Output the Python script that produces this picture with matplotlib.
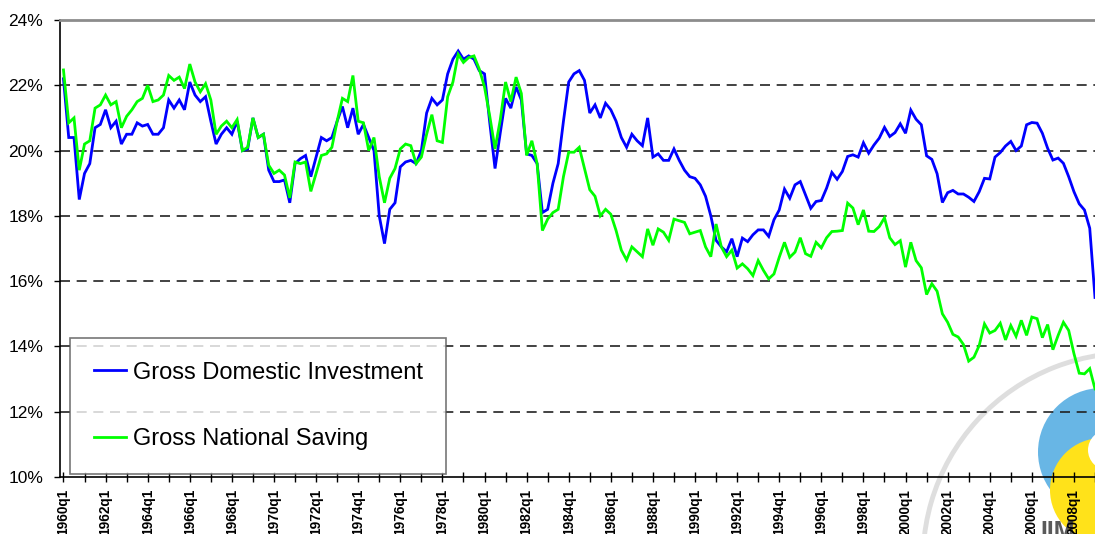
import matplotlib
matplotlib.use("Agg")
import matplotlib.pyplot as plt
from matplotlib.patches import Circle, Arc

plt.rcParams['font.family'] = ['Liberation Sans', 'DejaVu Sans']

# quarterly data, 1960q1 onwards (percent of GDP)
quarters = [f"{1960 + k // 4}q{k % 4 + 1}" for k in range(197)]

gross_investment = [
    22.2, 20.4, 20.4, 18.5, 19.3, 19.6, 20.7, 20.8, 21.25, 20.7,
    20.9, 20.2, 20.5, 20.5, 20.85, 20.75, 20.8, 20.5, 20.5, 20.7,
    21.55, 21.3, 21.55, 21.25, 22.1, 21.7, 21.5, 21.65, 20.9, 20.2,
    20.5, 20.7, 20.5, 20.9, 20.0, 20.05, 21.0, 20.4, 20.5, 19.4,
    19.05, 19.05, 19.1, 18.4, 19.6, 19.75, 19.85, 19.2, 19.8, 20.4,
    20.3, 20.4, 20.9, 21.35, 20.7, 21.3, 20.5, 20.8, 20.4, 20.0,
    18.0, 17.15, 18.2, 18.4, 19.5, 19.65, 19.7, 19.6, 20.0, 21.15,
    21.6, 21.4, 21.55, 22.35, 22.8, 23.05, 22.8, 22.9, 22.8, 22.45,
    22.35, 20.85, 19.45, 20.55, 21.6, 21.3, 21.95, 21.55, 19.9, 19.85,
    19.6, 18.1, 18.2, 19.0, 19.6, 20.9, 22.1, 22.35, 22.45, 22.15,
    21.15, 21.4, 21.0, 21.45, 21.25, 20.9, 20.4, 20.1, 20.5, 20.3,
    20.15, 21.0, 19.8, 19.9, 19.7, 19.7, 20.05, 19.7, 19.4, 19.2,
    19.15, 18.95, 18.6, 18.0, 17.25, 17.05, 16.9, 17.3, 16.75, 17.32,
    17.21, 17.42, 17.57, 17.57, 17.37, 17.88, 18.18, 18.82, 18.54, 18.95,
    19.05, 18.64, 18.23, 18.44, 18.47, 18.85, 19.33, 19.12, 19.36, 19.82,
    19.87, 19.8, 20.24, 19.92, 20.17, 20.38, 20.71, 20.43, 20.55, 20.82,
    20.53, 21.24, 20.96, 20.79, 19.84, 19.73, 19.29, 18.41, 18.71, 18.78,
    18.67, 18.67, 18.57, 18.44, 18.74, 19.15, 19.13, 19.8, 19.94, 20.14,
    20.28, 20.0, 20.14, 20.79, 20.86, 20.84, 20.53, 20.07, 19.71, 19.77,
    19.61, 19.2, 18.74, 18.37, 18.18, 17.62, 15.5,
]

gross_saving = [
    22.47, 20.85, 21.0, 19.4, 20.2, 20.3, 21.3, 21.4, 21.7, 21.4,
    21.5, 20.7, 21.05, 21.25, 21.5, 21.6, 22.0, 21.5, 21.55, 21.7,
    22.3, 22.15, 22.25, 21.9, 22.65, 22.1, 21.8, 22.05, 21.55, 20.5,
    20.75, 20.9, 20.7, 20.95, 20.0, 20.1, 21.0, 20.4, 20.5, 19.55,
    19.3, 19.4, 19.25, 18.55, 19.65, 19.6, 19.65, 18.75, 19.3, 19.85,
    19.9, 20.1, 20.9, 21.6, 21.5, 22.3, 20.9, 20.85, 20.0, 20.4,
    19.2, 18.4, 19.15, 19.45, 20.05, 20.2, 20.15, 19.6, 19.8, 20.5,
    21.1, 20.3, 20.25, 21.65, 22.1, 22.95, 22.7, 22.85, 22.9, 22.5,
    21.95, 21.05, 20.05, 20.95, 22.1, 21.5, 22.25, 21.75, 19.85, 20.3,
    19.6, 17.55, 17.9, 18.1, 18.2, 19.2, 19.95, 19.95, 20.1, 19.45,
    18.8, 18.6, 18.0, 18.2, 18.05, 17.55, 16.95, 16.65, 17.05, 16.9,
    16.75, 17.6, 17.1, 17.6, 17.5, 17.25, 17.9, 17.85, 17.8, 17.45,
    17.5, 17.55, 17.05, 16.75, 17.75, 17.05, 16.75, 16.95, 16.4, 16.53,
    16.38, 16.17, 16.63, 16.33, 16.07, 16.22, 16.73, 17.19, 16.73, 16.89,
    17.33, 16.84, 16.76, 17.19, 17.02, 17.33, 17.52, 17.53, 17.55, 18.39,
    18.24, 17.73, 18.18, 17.53, 17.52, 17.67, 17.94, 17.33, 17.12, 17.24,
    16.43, 17.19, 16.63, 16.41, 15.59, 15.92, 15.69, 15.0, 14.74, 14.37,
    14.29, 14.06, 13.55, 13.67, 14.03, 14.69, 14.41, 14.49, 14.71, 14.2,
    14.64, 14.31, 14.8, 14.34, 14.9, 14.85, 14.27, 14.67, 13.9, 14.34,
    14.74, 14.49, 13.78, 13.18, 13.16, 13.32, 12.7,
]

y_ticks = [10, 12, 14, 16, 18, 20, 22, 24]

W, H = 1095, 534
fig = plt.figure(figsize=(W / 100, H / 100), dpi=100)

# watermark layer (pixel coordinates), sits behind the chart
bg = fig.add_axes([0, 0, 1, 1], zorder=0)
bg.set_xlim(0, W)
bg.set_ylim(H, 0)
bg.axis("off")
bg.add_patch(Arc((1130, 560), 414, 414, theta1=170, theta2=275,
                 color="#dedede", lw=3.5))
bg.add_patch(Circle((1102, 452), 64, color="#58aee3", alpha=0.9, lw=0))
bg.add_patch(Circle((1102, 490), 52, color="#ffe21a", lw=0))
bg.add_patch(Circle((1108, 450), 20, color="white", lw=0))
bg.text(1040, 520, "IIM", fontsize=18, fontweight="bold", color="#5a5a5a",
        va="top", ha="left")

ax = fig.add_axes([60 / W, 1 - 477 / H, 1035 / W, 457 / H], zorder=1)
ax.set_facecolor("none")

x = list(range(len(quarters)))
ax.plot(x, gross_investment, color="#0000ff", lw=2.0,
        label="Gross Domestic Investment", solid_joinstyle="miter")
ax.plot(x, gross_saving, color="#00ff00", lw=2.0,
        label="Gross National Saving", solid_joinstyle="miter")

ax.set_ylim(10, 24)
ax.set_xlim(-0.66, 195.77)

ax.set_yticks(y_ticks)
ax.set_yticklabels([f"{v}%" for v in y_ticks], fontsize=12.5)
ax.tick_params(axis="y", direction="out", length=4, width=1, pad=8)

xt = list(range(0, len(quarters), 4))
ax.set_xticks(xt)
ax.set_xticklabels([quarters[i] if i % 8 == 0 else "" for i in xt],
                   rotation=90, fontsize=9.8, fontweight="bold")
ax.tick_params(axis="x", direction="inout", length=7, width=1, pad=5)

for v in y_ticks[1:-1]:
    ax.axhline(v, color="#222222", lw=1.2, dashes=(6, 4), zorder=0.5)

ax.spines["right"].set_visible(False)
ax.spines["top"].set_color("#8c8c8c")
ax.spines["top"].set_linewidth(2.0)
ax.spines["left"].set_linewidth(1.2)
ax.spines["bottom"].set_linewidth(1.2)

leg = ax.legend(loc="lower left", bbox_to_anchor=(0.0097, 0.0066, 0.363, 0.311),
                mode="expand", borderaxespad=0, fontsize=17, frameon=True,
                fancybox=False, handlelength=1.35, handletextpad=0.3,
                labelspacing=1.9, borderpad=1.0)
leg.get_frame().set_edgecolor("#555555")
leg.get_frame().set_linewidth(1.2)

# title sits almost entirely above the visible area
fig.text(553 / W, 1 + 4.5 / H, "(as percent of GDP)", ha="center",
         va="baseline", fontsize=16.5, fontweight="bold")

fig.savefig("out.png", dpi=100)
